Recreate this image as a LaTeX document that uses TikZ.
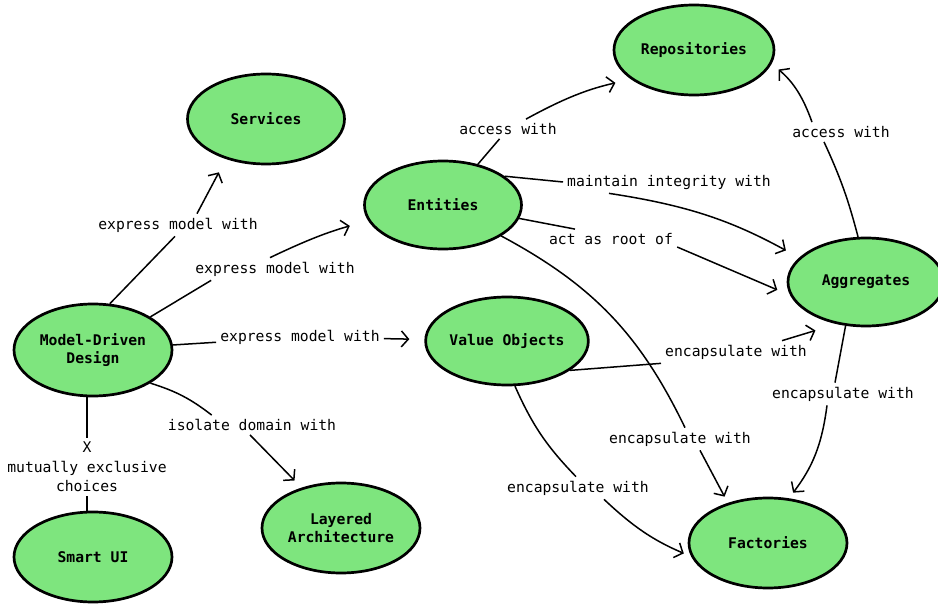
\documentclass[tikz,border=0pt]{standalone}
\usepackage{fontspec}
\setmonofont{DejaVu Sans Mono}
\usetikzlibrary{shapes.geometric,arrows.meta}
\definecolor{conceptgreen}{RGB}{126,229,126}
\begin{document}
\begin{tikzpicture}[x=1pt,y=1pt,
  concept/.style={ellipse, draw, line width=2.7pt, fill=conceptgreen,
    minimum width=158pt, minimum height=90pt, inner sep=0pt, align=center,
    font=\ttfamily\bfseries\fontsize{14.7}{18.5}\selectfont},
  rel/.style={inner sep=4pt, align=center,
    font=\ttfamily\fontsize{14.7}{19.5}\selectfont},
  link/.style={line width=1.5pt},
  arr/.style={link, -{Straight Barb[length=7pt,width=16pt,line width=1.5pt]}},
]
\useasboundingbox[fill=white] (0,0) rectangle (938,-604);

% concepts
\node[concept, minimum width=160pt] (rep) at (694,-50)  {Repositories};
\node[concept, minimum width=157pt] (svc) at (266,-119) {Services};
\node[concept, minimum width=157pt, minimum height=88pt] (ent) at (443,-205) {Entities};
\node[concept, minimum width=156pt, minimum height=88pt] (agg) at (866,-282) {Aggregates};
\node[concept, minimum height=92pt] (mdd) at (93,-350) {Model-Driven\\Design};
\node[concept, minimum width=154pt, minimum height=88pt] (vo) at (507,-341) {Value Objects};
\node[concept] (lay) at (341,-528) {Layered\\Architecture};
\node[concept] (sui) at (93,-557) {Smart UI};
\node[concept] (fac) at (768,-543) {Factories};

% relation labels
\node[rel] (lsvc)   at (178,-225) {express model with};
\node[rel] (lent)   at (275,-269) {express model with};
\node[rel] (lvo)    at (300,-337) {express model with};
\node[rel] (llay)   at (252,-425) {isolate domain with};
\node[rel] (lsui)   at (87,-467)  {X\\mutually exclusive\\choices};
\node[rel] (lerep)  at (508,-129) {access with};
\node[rel] (leagg1) at (669,-182) {maintain integrity with};
\node[rel] (leagg2) at (611,-239) {act as root of};
\node[rel] (lefac)  at (680,-439) {encapsulate with};
\node[rel] (larep)  at (841,-132) {access with};
\node[rel] (lafac)  at (843,-394) {encapsulate with};
\node[rel] (lvagg)  at (736,-352) {encapsulate with};
\node[rel] (lvfac)  at (578,-488) {encapsulate with};

% Model-Driven Design
\draw[link] (mdd.70) -- ([xshift=-3pt]lsvc.south);
\draw[arr, shorten >=15pt] ([xshift=19pt]lsvc.north) -- (svc.225);
\draw[link] (mdd.30) -- ([xshift=20pt]lent.south west);
\draw[arr, shorten >=19pt] ([xshift=-5pt]lent.north) to[bend left=5] (ent);
\draw[link] (mdd) -- (lvo);
\draw[arr, shorten >=15pt] (lvo) -- (vo);
\draw[link] (mdd.-30) to[bend left=10] ([xshift=48pt]llay.north west);
\draw[arr, shorten >=10pt] ([xshift=-2pt]llay.south) -- (lay);
\draw[link] (lsui) -- (lsui |- mdd.south);
\draw[link] (lsui) -- (lsui |- sui.north);

% Entities
\draw[link] (ent) -- (lerep);
\draw[arr, shorten >=16pt] ([xshift=18pt]lerep.north) to[bend left=8] (rep.205);
\draw[link] (ent.25) -- (leagg1.west);
\draw[arr, shorten >=15pt] ([xshift=-60pt]leagg1.south) to[bend left=10] (agg.160);
\draw[link] (ent.-10) -- ([xshift=-36pt]leagg2.north);
\draw[arr, shorten >=14pt] ([yshift=-8pt]leagg2.east) -- (agg.190);
\draw[link] (ent.-28) to[bend left=18] ([xshift=5pt]lefac.north);
\draw[arr, shorten >=7pt] ([xshift=20pt]lefac.south) -- (fac.135);

% Aggregates
\draw[link] (agg.100) to[bend right=5] ([xshift=-17pt]larep.south);
\draw[arr, shorten >=9pt] ([xshift=-29pt]larep.north) to[bend right=15] (rep.-10);
\draw[link] (agg.245) -- ([xshift=-8pt]lafac.north);
\draw[arr, shorten >=7pt] ([xshift=-16pt]lafac.south) to[bend left=15] (fac.65);

% Value Objects
\draw[link] (vo.-25) -- (lvagg.south west);
\draw[arr, shorten >=22pt] ([xshift=-29pt]lvagg.north east) -- (agg.235);
\draw[link] (vo.-80) to[bend right=10] ([xshift=-2pt]lvfac.north);
\draw[arr, shorten >=8pt] ([xshift=26pt]lvfac.south) to[bend right=10] (fac.190);
\end{tikzpicture}
\end{document}
